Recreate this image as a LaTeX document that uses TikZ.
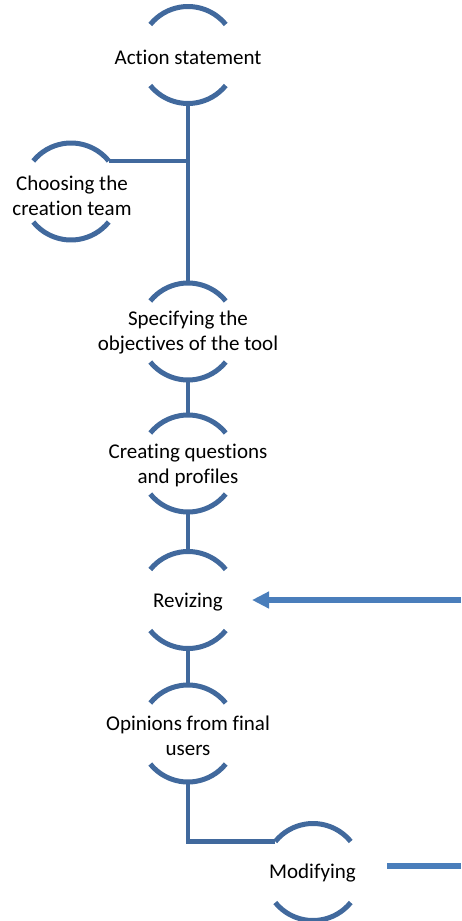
\documentclass[tikz,border=0pt]{standalone}
\usepackage{fontspec}
\setmainfont{Carlito}[Ligatures=NoCommon]
\usetikzlibrary{arrows.meta}
\begin{document}
\begin{tikzpicture}[x=1pt,y=-1pt,
  stepring/.style={circle,minimum size=97pt,inner sep=0pt,outer sep=0pt},
  steptext/.style={align=center,font=\fontsize{21}{25}\selectfont,text=black,inner sep=0pt},
  ringarc/.style={draw=arccol,line width=5pt},
  link/.style={draw=linkcol,line width=4.5pt},
  feedback/.style={draw=arrowcol,line width=5.5pt}]
\definecolor{arccol}{HTML}{41699D}
\definecolor{linkcol}{HTML}{41699D}
\definecolor{arrowcol}{HTML}{4A7EBB}
\useasboundingbox (0,0) rectangle (461,921);

% ring-shaped steps
\node[stepring] (act) at (188,55) {};
\node[stepring] (team) at (71,191.5) {};
\node[stepring] (obj) at (188,331.5) {};
\node[stepring] (quest) at (188,463.5) {};
\node[stepring] (rev) at (188,600) {};
\node[stepring] (opin) at (188,733.5) {};
\node[stepring] (mod) at (313,872) {};

\foreach \n in {act,team,obj,quest,rev,opin,mod}{
  \draw[ringarc] (\n.39) arc[start angle=39,end angle=141,radius=48.5pt];
  \draw[ringarc] (\n.219) arc[start angle=219,end angle=321,radius=48.5pt];
}

% step labels
\node[steptext] (act-t) at (188,57) {Action statement};
\node[steptext] (team-t) at (72,196) {Choosing the\\creation team};
\node[steptext] (obj-t) at (188,333) {Specifying the\\objectives of the tool};
\node[steptext] (quest-t) at (188,465) {Creating questions\\and profiles};
\node[steptext] (rev-t) at (188,602) {Revizing};
\node[steptext] (opin-t) at (188,736) {Opinions from final\\users};
\node[steptext] (mod-t) at (312.5,873) {Modifying};

% connectors
\draw[link] (act.south) -- (obj.north);
\draw[link] (team.39) -- (act.south |- team.39);
\draw[link] (obj.south) -- (quest.north);
\draw[link] (quest.south) -- (rev.north);
\draw[link] (rev.south) -- (opin.north);
\draw[link] (opin.south) |- (mod.141);

% feedback lines at the right
\coordinate (revin) at (461,600);
\draw[feedback,shorten >=15.5pt,-{Triangle[length=17pt,width=16pt]}] (revin) -- (rev.east);
\coordinate (modout) at (387,866);
\coordinate (modend) at (461,866);
\draw[feedback] (modout) -- (modend);
\end{tikzpicture}
\end{document}
